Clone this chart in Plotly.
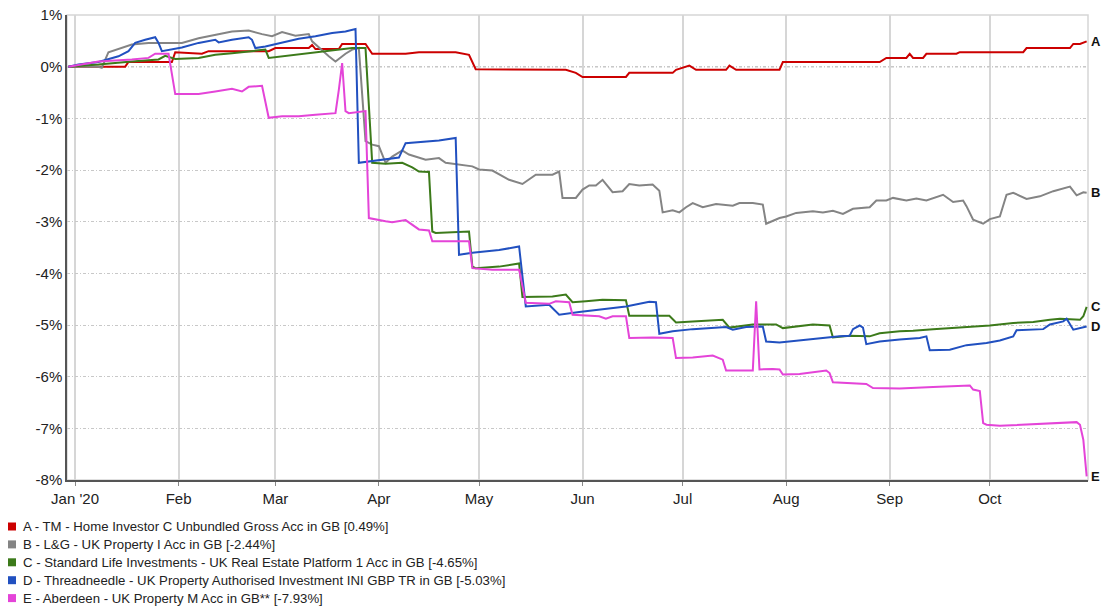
import plotly.graph_objects as go

# ---------------- data (cumulative performance, %) ----------------
a_dates = ["2019-12-30","2020-01-16","2020-01-17","2020-01-30","2020-01-31","2020-02-08","2020-02-10",
           "2020-02-28","2020-03-01","2020-03-11","2020-03-12","2020-03-13","2020-03-20","2020-03-21",
           "2020-03-28","2020-03-30","2020-04-09","2020-04-13","2020-04-24","2020-04-28","2020-04-30",
           "2020-05-27","2020-05-30","2020-06-01","2020-06-14","2020-06-15","2020-06-28","2020-06-29",
           "2020-07-03","2020-07-05","2020-07-14","2020-07-15","2020-07-17","2020-07-30","2020-07-31",
           "2020-08-29","2020-08-31","2020-09-06","2020-09-07","2020-09-08","2020-09-11","2020-09-12",
           "2020-09-21","2020-09-22","2020-10-11","2020-10-12","2020-10-25","2020-10-26","2020-10-28",
           "2020-10-30"]
a_vals = [0.0,0.0,0.09,0.09,0.28,0.25,0.30,
          0.30,0.36,0.36,0.42,0.34,0.34,0.44,
          0.44,0.25,0.25,0.28,0.28,0.23,-0.05,
          -0.06,-0.12,-0.20,-0.20,-0.12,-0.12,-0.06,
          0.02,-0.06,-0.06,0.02,-0.06,-0.06,0.09,
          0.09,0.17,0.17,0.25,0.17,0.17,0.25,
          0.25,0.28,0.28,0.36,0.36,0.44,0.44,
          0.49]

b_dates = ["2019-12-30","2020-01-08","2020-01-09","2020-01-11","2020-01-18","2020-01-23","2020-02-02",
           "2020-02-07","2020-02-17","2020-02-22","2020-02-26","2020-02-29","2020-03-03","2020-03-07",
           "2020-03-11","2020-03-12","2020-03-17","2020-03-19","2020-03-22","2020-03-24","2020-03-26",
           "2020-03-28","2020-03-30","2020-04-01","2020-04-03","2020-04-05","2020-04-08","2020-04-10",
           "2020-04-15","2020-04-19","2020-04-21","2020-04-25","2020-04-29","2020-05-01","2020-05-05",
           "2020-05-10","2020-05-14","2020-05-18","2020-05-23","2020-05-25","2020-05-26","2020-05-30",
           "2020-06-01","2020-06-03","2020-06-05","2020-06-07","2020-06-10","2020-06-13","2020-06-15",
           "2020-06-18","2020-06-22","2020-06-24","2020-06-25","2020-06-28","2020-06-30","2020-07-02",
           "2020-07-04","2020-07-07","2020-07-11","2020-07-16","2020-07-18","2020-07-22","2020-07-25",
           "2020-07-26","2020-07-28","2020-07-30","2020-08-01","2020-08-04","2020-08-09","2020-08-12",
           "2020-08-15","2020-08-18","2020-08-21","2020-08-26","2020-08-28","2020-08-31","2020-09-02",
           "2020-09-06","2020-09-09","2020-09-12","2020-09-17","2020-09-20","2020-09-23","2020-09-24",
           "2020-09-26","2020-09-29","2020-10-01","2020-10-04","2020-10-06","2020-10-08","2020-10-12",
           "2020-10-16","2020-10-20","2020-10-23","2020-10-25","2020-10-27","2020-10-29","2020-10-30"]
b_vals = [0.0,0.0,-0.02,0.28,0.43,0.46,0.46,
          0.55,0.68,0.70,0.63,0.59,0.67,0.60,
          0.63,0.49,0.20,0.10,0.25,0.33,0.36,
          -1.44,-1.51,-1.54,-1.86,-1.74,-1.62,-1.70,
          -1.80,-1.77,-1.86,-1.90,-1.93,-1.99,-2.01,
          -2.19,-2.27,-2.09,-2.09,-2.03,-2.54,-2.54,
          -2.38,-2.30,-2.30,-2.19,-2.43,-2.41,-2.27,
          -2.30,-2.28,-2.40,-2.82,-2.78,-2.82,-2.72,
          -2.64,-2.72,-2.66,-2.69,-2.64,-2.64,-2.67,
          -3.04,-2.98,-2.93,-2.90,-2.83,-2.80,-2.82,
          -2.79,-2.85,-2.75,-2.72,-2.59,-2.59,-2.54,
          -2.59,-2.55,-2.59,-2.48,-2.62,-2.59,-2.70,
          -2.96,-3.04,-2.95,-2.90,-2.48,-2.44,-2.56,
          -2.51,-2.41,-2.35,-2.32,-2.49,-2.43,-2.44]

c_dates = ["2019-12-30","2020-01-08","2020-01-18","2020-01-26","2020-01-28","2020-01-31","2020-02-07",
           "2020-02-12","2020-02-17","2020-02-27","2020-02-28","2020-03-03","2020-03-08","2020-03-15",
           "2020-03-20","2020-03-24","2020-03-28","2020-03-29","2020-03-30","2020-04-03","2020-04-08",
           "2020-04-11","2020-04-13","2020-04-16","2020-04-17","2020-04-18","2020-04-28","2020-04-29",
           "2020-04-30","2020-05-07","2020-05-13","2020-05-14","2020-05-23","2020-05-27","2020-05-29",
           "2020-06-02","2020-06-07","2020-06-14","2020-06-15","2020-06-27","2020-06-29","2020-07-04",
           "2020-07-13","2020-07-15","2020-07-22","2020-07-29","2020-07-31","2020-08-09","2020-08-14",
           "2020-08-15","2020-08-20","2020-08-26","2020-08-29","2020-09-04","2020-09-08","2020-09-14",
           "2020-09-22","2020-10-01","2020-10-08","2020-10-14","2020-10-19","2020-10-22","2020-10-28",
           "2020-10-29","2020-10-30"]
c_vals = [0.0,0.04,0.10,0.14,0.21,0.15,0.17,
          0.23,0.26,0.33,0.17,0.20,0.25,0.30,
          0.33,0.36,0.36,-0.83,-1.86,-1.88,-1.86,
          -1.95,-2.03,-2.04,-3.19,-3.22,-3.19,-3.87,
          -3.90,-3.87,-3.81,-4.46,-4.45,-4.41,-4.56,
          -4.54,-4.51,-4.52,-4.82,-4.82,-4.95,-4.93,
          -4.90,-5.05,-4.99,-4.99,-5.06,-4.99,-5.01,
          -5.24,-5.21,-5.22,-5.16,-5.12,-5.11,-5.08,
          -5.05,-5.01,-4.96,-4.94,-4.90,-4.88,-4.90,
          -4.83,-4.65]

d_dates = ["2019-12-30","2020-01-02","2020-01-08","2020-01-11","2020-01-14","2020-01-17","2020-01-19",
           "2020-01-22","2020-01-25","2020-01-26","2020-01-27","2020-02-02","2020-02-07","2020-02-12",
           "2020-02-13","2020-02-17","2020-02-22","2020-02-23","2020-02-24","2020-02-27","2020-03-03",
           "2020-03-08","2020-03-13","2020-03-18","2020-03-22","2020-03-25","2020-03-26","2020-04-02",
           "2020-04-07","2020-04-09","2020-04-19","2020-04-24","2020-04-25","2020-04-29","2020-05-07",
           "2020-05-13","2020-05-15","2020-05-22","2020-05-25","2020-05-31","2020-06-06","2020-06-14",
           "2020-06-21","2020-06-23","2020-06-24","2020-06-28","2020-07-04","2020-07-14","2020-07-16",
           "2020-07-20","2020-07-25","2020-07-26","2020-07-30","2020-08-05","2020-08-13","2020-08-17",
           "2020-08-20","2020-08-21","2020-08-23","2020-08-24","2020-08-25","2020-08-29","2020-09-04",
           "2020-09-10","2020-09-12","2020-09-13","2020-09-19","2020-09-24","2020-09-30","2020-10-04",
           "2020-10-08","2020-10-09","2020-10-17","2020-10-19","2020-10-23","2020-10-24","2020-10-26",
           "2020-10-28","2020-10-30"]
d_vals = [0.0,0.04,0.09,0.14,0.20,0.30,0.46,
          0.52,0.57,0.46,0.30,0.37,0.46,0.52,
          0.47,0.52,0.57,0.52,0.36,0.39,0.47,
          0.54,0.59,0.65,0.68,0.73,-1.86,-1.80,
          -1.76,-1.48,-1.43,-1.38,-3.64,-3.60,-3.55,
          -3.48,-4.64,-4.61,-4.80,-4.75,-4.70,-4.64,
          -4.55,-4.56,-5.17,-5.12,-5.08,-5.04,-5.09,
          -5.04,-5.03,-5.32,-5.34,-5.30,-5.24,-5.22,
          -5.21,-5.08,-5.01,-5.05,-5.37,-5.32,-5.28,
          -5.25,-5.22,-5.49,-5.48,-5.39,-5.35,-5.30,
          -5.22,-5.10,-5.08,-4.99,-4.93,-4.88,-5.09,
          -5.06,-5.03]

e_dates = ["2019-12-30","2020-01-04","2020-01-08","2020-01-18","2020-01-23","2020-01-25","2020-01-29",
           "2020-01-31","2020-02-07","2020-02-12","2020-02-17","2020-02-20","2020-02-22","2020-02-26",
           "2020-02-28","2020-03-03","2020-03-08","2020-03-13","2020-03-19","2020-03-20","2020-03-21",
           "2020-03-22","2020-03-23","2020-03-28","2020-03-29","2020-04-03","2020-04-05",
           "2020-04-09","2020-04-11","2020-04-13","2020-04-16","2020-04-17","2020-04-28","2020-04-29",
           "2020-05-05","2020-05-13","2020-05-15","2020-05-22","2020-05-24","2020-05-28","2020-05-29",
           "2020-06-06","2020-06-08","2020-06-10","2020-06-14","2020-06-15","2020-06-22","2020-06-28",
           "2020-06-29","2020-07-04","2020-07-10","2020-07-13","2020-07-14","2020-07-22","2020-07-23",
           "2020-07-24","2020-07-28","2020-07-30","2020-07-31","2020-08-05","2020-08-13","2020-08-14",
           "2020-08-15","2020-08-19","2020-08-25","2020-08-27","2020-09-04","2020-09-14","2020-09-22",
           "2020-09-25","2020-09-26","2020-09-28","2020-09-29","2020-09-30","2020-10-04","2020-10-10",
           "2020-10-18","2020-10-24","2020-10-27","2020-10-28","2020-10-29","2020-10-30"]
e_vals = [0.0,0.06,0.10,0.14,0.17,0.25,0.25,
          -0.53,-0.53,-0.48,-0.43,-0.48,-0.39,-0.37,
          -0.99,-0.96,-0.96,-0.93,-0.90,-0.45,0.07,
          -0.86,-0.90,-0.86,-2.93,-2.99,-3.01,
          -2.97,-3.06,-3.15,-3.17,-3.38,-3.38,-3.90,
          -3.93,-3.93,-4.57,-4.59,-4.54,-4.56,-4.80,
          -4.83,-4.88,-4.83,-4.83,-5.25,-5.24,-5.25,
          -5.64,-5.63,-5.59,-5.67,-5.88,-5.88,-4.54,
          -5.86,-5.85,-5.86,-5.96,-5.95,-5.88,-5.93,
          -6.11,-6.12,-6.14,-6.22,-6.23,-6.20,-6.17,
          -6.17,-6.25,-6.28,-6.90,-6.93,-6.95,-6.93,
          -6.90,-6.88,-6.88,-6.93,-7.22,-7.93]

letters = ["A", "B", "C", "D", "E"]
names = [
    "A - TM - Home Investor C Unbundled Gross Acc in GB [0.49%]",
    "B - L&G - UK Property I Acc in GB [-2.44%]",
    "C - Standard Life Investments - UK Real Estate Platform 1 Acc in GB [-4.65%]",
    "D - Threadneedle - UK Property Authorised Investment INI GBP TR in GB [-5.03%]",
    "E - Aberdeen - UK Property M Acc in GB** [-7.93%]",
]
colors = ["#cc0000", "#848484", "#3c7a1a", "#2150c0", "#e444d8"]

month_ticks = ["2020-01-01","2020-02-01","2020-03-01","2020-04-01","2020-05-01","2020-06-01",
               "2020-07-01","2020-08-01","2020-09-01","2020-10-01"]
month_labels = ["Jan '20","Feb","Mar","Apr","May","Jun","Jul","Aug","Sep","Oct"]
y_ticks = [1, 0, -1, -2, -3, -4, -5, -6, -7, -8]
y_labels = ["1%", "0%", "-1%", "-2%", "-3%", "-4%", "-5%", "-6%", "-7%", "-8%"]

series = [(a_dates, a_vals), (b_dates, b_vals), (c_dates, c_vals), (d_dates, d_vals), (e_dates, e_vals)]

# ---------------- layout geometry (pixels) ----------------
W, H = 1105, 612
ML, MR, MT, MB = 67, 17, 15, 132
PW, PH = W - ML - MR, H - MT - MB


def px_to_paper_x(px):
    return (px - ML) / PW


def px_to_paper_y(py):
    return (H - MB - py) / PH


FONT = "Arial, 'Liberation Sans', sans-serif"
fig = go.Figure()

for (dx, vy), col in zip(series, colors):
    fig.add_trace(go.Scatter(x=dx, y=vy, mode="lines", line=dict(color=col, width=2),
                             showlegend=False, hoverinfo="skip"))

# end labels
for (dx, vy), lt in zip(series, letters):
    fig.add_annotation(x=dx[-1], y=vy[-1], text="<b>" + lt + "</b>", showarrow=False,
                       xanchor="left", yanchor="middle", xshift=2,
                       font=dict(family=FONT, size=13, color="#111111"))

# legend drawn below the plot (square swatch + text)
row0, row_gap = 526.5, 17.9
for i, (nm, col) in enumerate(zip(names, colors)):
    cy = row0 + i * row_gap
    fig.add_shape(type="rect", xref="paper", yref="paper",
                  x0=px_to_paper_x(8), x1=px_to_paper_x(16),
                  y0=px_to_paper_y(cy + 4), y1=px_to_paper_y(cy - 4),
                  fillcolor=col, line=dict(width=0))
    fig.add_annotation(xref="paper", yref="paper", x=px_to_paper_x(21), y=px_to_paper_y(cy),
                       text=nm.replace("&", "&amp;"), showarrow=False, xanchor="left", yanchor="middle",
                       font=dict(family=FONT, size=13.2, color="#222222"))

# frame (light) and zero line
fig.add_shape(type="rect", xref="paper", yref="paper", x0=0, x1=1, y0=0, y1=1,
              line=dict(color="#d6d6d6", width=1.5), layer="below")
fig.add_shape(type="line", xref="paper", yref="y", x0=0, x1=1, y0=0, y1=0,
              line=dict(color="#444444", width=1, dash="3px,2px,1px,2px"), layer="below")

fig.update_layout(
    width=W, height=H,
    margin=dict(l=ML, r=MR, t=MT, b=MB, autoexpand=False),
    paper_bgcolor="white", plot_bgcolor="white",
    font=dict(family=FONT, size=13, color="#222222"),
    showlegend=False,
    xaxis=dict(type="date", range=["2019-12-29 14:00", "2020-10-30 09:40"],
               tickvals=month_ticks, ticktext=month_labels,
               showgrid=True, gridcolor="#d6d6d6", gridwidth=1.5,
               ticks="outside", ticklen=4, tickcolor="#888888",
               showline=True, linecolor="#555555", linewidth=1.5,
               zeroline=False, automargin=False, tickfont=dict(size=15, color="#222222")),
    yaxis=dict(range=[-8, 1], tickvals=y_ticks, ticktext=y_labels,
               showgrid=True, gridcolor="#c8c8c8", gridwidth=1, griddash="3px,2px,1px,2px",
               showline=True, linecolor="#555555", linewidth=1.5,
               zeroline=False, ticks="", automargin=False,
               tickfont=dict(size=15, color="#222222")),
)

fig.write_html("out.html", config={"displayModeBar": False},
               post_script="document.body.style.margin='0';document.body.style.overflow='hidden';")
